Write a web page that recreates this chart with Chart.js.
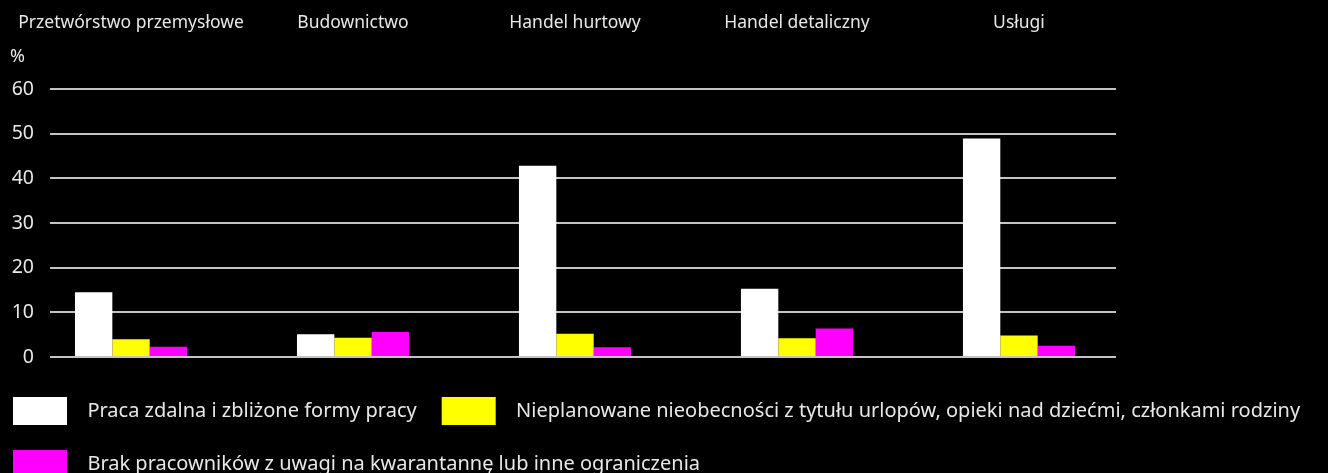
<!DOCTYPE html>
<html lang="pl">
<head>
  <meta charset="UTF-8">
  <title>Przyczyny zmian w zatrudnieniu</title>
  <style>
    html, body {
      margin: 0;
      padding: 0;
      background: #000;
    }
    .chart-container {
      width: 1328px;
      height: 473px;
      position: relative;
    }
  </style>
  <script src="https://cdn.jsdelivr.net/npm/chart.js"></script>
</head>
<body>
  <div class="chart-container">
    <canvas id="chart"></canvas>
  </div>

  <script>
    // Categories (shown along the top)
    const categories = ['Przetwórstwo przemysłowe', 'Budownictwo', 'Handel hurtowy', 'Handel detaliczny', 'Usługi'];

    // Series values, %
    const remoteWork = [14.5, 5.1, 42.8, 15.3, 48.9];
    const absences = [4.0, 4.3, 5.2, 4.2, 4.8];
    const quarantine = [2.3, 5.6, 2.2, 6.4, 2.5];

    const seriesNames = [
      'Praca zdalna i zbliżone formy pracy',
      'Nieplanowane nieobecności z tytułu urlopów, opieki nad dziećmi, członkami rodziny',
      'Brak pracowników z uwagi na kwarantannę lub inne ograniczenia'
    ];

    const yTicks = [0, 10, 20, 30, 40, 50, 60];

    const textColor = '#e8e8e8';
    const fontFamily = '"Noto Sans", "Open Sans", sans-serif';

    // x positions are category indexes, so bars sit on a linear axis
    function toPoints(values) {
      return values.map((v, i) => ({ x: i, y: v }));
    }

    // draws the "%" unit above the y axis
    const unitLabel = {
      id: 'unitLabel',
      afterDraw(chart) {
        const ctx = chart.ctx;
        const y = chart.scales.y.getPixelForValue(60);
        ctx.save();
        ctx.fillStyle = textColor;
        ctx.font = '18px ' + fontFamily;
        ctx.textAlign = 'left';
        ctx.textBaseline = 'middle';
        ctx.fillText('%', 10, y - 32);
        ctx.restore();
      }
    };

    const ctx = document.getElementById('chart').getContext('2d');

    new Chart(ctx, {
      type: 'bar',
      data: {
        datasets: [
          { label: seriesNames[0], data: toPoints(remoteWork), backgroundColor: '#ffffff' },
          { label: seriesNames[1], data: toPoints(absences), backgroundColor: '#ffff00' },
          { label: seriesNames[2], data: toPoints(quarantine), backgroundColor: '#ff00ff' }
        ]
      },
      options: {
        responsive: true,
        maintainAspectRatio: false,
        animation: false,
        categoryPercentage: 0.505,
        barPercentage: 1,
        layout: {
          padding: { left: -12, top: 0, right: 0, bottom: -15 }
        },
        scales: {
          x: {
            type: 'linear',
            position: 'top',
            offset: false,
            min: -0.365,
            max: 4.437,
            afterBuildTicks(scale) {
              scale.ticks = categories.map((c, i) => ({ value: i }));
            },
            afterFit(scale) {
              scale.height = 89;
              // labels may overhang the plot edges, as in the original
              scale.paddingLeft = 0;
              scale.paddingRight = 0;
            },
            grid: { display: false, drawTicks: false },
            border: { display: false },
            ticks: {
              color: textColor,
              font: { size: 17.5, family: fontFamily },
              padding: 55,
              maxRotation: 0,
              autoSkip: false,
              callback: (value) => categories[value]
            }
          },
          // empty strip between the plot and the legend
          xGap: {
            type: 'linear',
            position: 'bottom',
            afterFit(scale) {
              scale.height = 15;
              scale.paddingLeft = 0;
              scale.paddingRight = 0;
            },
            grid: { display: false, drawTicks: false },
            border: { display: false },
            ticks: { display: false }
          },
          y: {
            min: 0,
            max: 60,
            afterBuildTicks(scale) {
              scale.ticks = yTicks.map(v => ({ value: v }));
            },
            afterFit(scale) {
              scale.width = 62;
            },
            grid: {
              color: '#c4c4c4',
              lineWidth: 2,
              drawTicks: false
            },
            border: { display: false },
            ticks: {
              color: textColor,
              font: { size: 19.5, family: fontFamily },
              padding: 16
            }
          },
          yRight: {
            position: 'right',
            afterFit(scale) {
              scale.width = 212;
            },
            grid: { display: false, drawTicks: false },
            border: { display: false },
            ticks: { display: false }
          }
        },
        plugins: {
          legend: {
            position: 'bottom',
            align: 'start',
            labels: {
              color: textColor,
              font: { size: 20, family: fontFamily },
              boxWidth: 54,
              boxHeight: 28,
              padding: 25,
              generateLabels(chart) {
                const items = Chart.defaults.plugins.legend.labels.generateLabels(chart);
                items.forEach(item => { item.text = '  ' + item.text; });
                return items;
              }
            }
          },
          tooltip: { enabled: false }
        }
      },
      plugins: [unitLabel]
    });
  </script>
</body>
</html>
